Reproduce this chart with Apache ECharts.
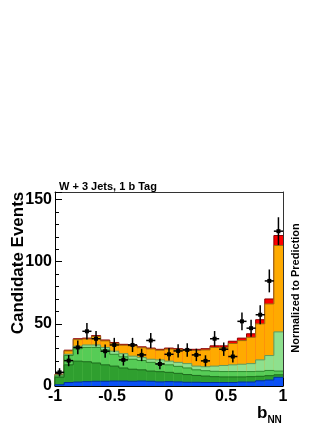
<!DOCTYPE html>
<html>
<head>
<meta charset="utf-8">
<script src="https://cdn.jsdelivr.net/npm/echarts@6/dist/echarts.min.js"></script>
<style>
  html, body { margin: 0; padding: 0; background: #fff; }
  #chart { width: 332px; height: 430px; }
</style>
</head>
<body>
<div id="chart"></div>
<script>
// bin edges of b_NN (25 bins from -1 to 1)
const binEdges = [-1, -0.92, -0.84, -0.76, -0.68, -0.6, -0.52, -0.44, -0.36, -0.28, -0.2, -0.12, -0.04,
  0.04, 0.12, 0.2, 0.28, 0.36, 0.44, 0.52, 0.6, 0.68, 0.76, 0.84, 0.92, 1];

// per-process predictions (stacked bottom -> top)
const blueProc   = [1, 2.8, 3.2, 3.5, 3.8, 3.8, 4, 4, 3.8, 4, 3.8, 3.3, 3.5, 3.3, 3, 3, 2.8, 2.8, 2.8, 2.8, 3.2, 3.2, 4.2, 4.8, 7];
const darkGreen  = [6, 14.2, 16.8, 16, 14.7, 13.2, 12, 10.5, 9.7, 9, 8.2, 8.2, 7.5, 6.9, 6.2, 5.5, 5.2, 4.7, 4.5, 4.5, 4.1, 4.3, 3.6, 3.5, 2];
const midGreen   = [1, 7.5, 10, 11.5, 12.5, 12, 9.5, 9, 8, 7.5, 7, 6.5, 6, 5.6, 5.3, 4.5, 4.3, 4.3, 4.3, 4.3, 4.3, 4.1, 4, 4.2, 3];
const lightGreen = [0.8, 1, 2, 2, 2, 2, 2.5, 2.5, 2.5, 2.5, 2.5, 3, 3, 3.2, 3.5, 3, 3.2, 4.2, 4.9, 5.4, 5.9, 6.4, 9.2, 12, 31.5];
const orangeProc = [0.5, 2.7, 5.3, 4.8, 6.8, 5.3, 6.3, 6.8, 8.3, 7.8, 8.3, 7.8, 9.7, 10.2, 10.6, 12.6, 13.5, 15, 14.5, 17.2, 19, 21.2, 29, 41.5, 69.5];
const redProc    = [0.2, 0.6, 0.7, 0.7, 0.7, 0.7, 0.7, 0.7, 0.7, 0.7, 0.7, 0.7, 0.8, 0.8, 0.9, 0.9, 1, 1.3, 1.3, 1.8, 2, 2.8, 3.3, 4, 8];

// observed data with errors
const dataCounts = [11, 20.4, 31, 44, 38, 28, 33, 21, 33, 25, 36.6, 17.7, 25.5, 28.2, 29, 25, 20.2, 38, 29.6, 23.7, 52, 46.5, 57.3, 84.5, 124.5];
const dataErrors = [3.3, 4.5, 5.5, 6.6, 6.2, 5.3, 5.7, 4.6, 5.7, 5, 6, 4.2, 5, 5.3, 5.4, 5, 4.5, 6.2, 5.4, 4.9, 7.2, 6.8, 7.6, 9.2, 11.2];

const yTicks = [0, 50, 100, 150];

const layers = [
  { name: 'blue', values: blueProc, fill: '#0a50f5', line: '#0030a0' },
  { name: 'darkgreen', values: darkGreen, fill: '#2f9f2f', line: '#1d6b1d' },
  { name: 'midgreen', values: midGreen, fill: '#56cc56', line: '#2f8a2f' },
  { name: 'lightgreen', values: lightGreen, fill: '#8ee08e', line: '#5f9a5f' },
  { name: 'orange', values: orangeProc, fill: '#ffaa00', line: '#9a6a10' },
  { name: 'red', values: redProc, fill: '#ff0000', line: '#8a0000' }
];

// cumulative tops
let running = binEdges.slice(1).map(() => 0);
layers.forEach(l => {
  running = running.map((v, i) => v + l.values[i]);
  l.tops = running.slice();
});

const FONT = 'Liberation Sans';

function histSeries(layer, z) {
  return {
    type: 'custom',
    z: z,
    silent: true,
    data: layer.tops.map((t, i) => [i, t, i > 0 ? layer.tops[i - 1] : 0]),
    renderItem: function (params, api) {
      const i = api.value(0);
      const top = api.value(1);
      const prev = api.value(2);
      const a = api.coord([binEdges[i], 0]);
      const b = api.coord([binEdges[i + 1], top]);
      const pPrev = api.coord([binEdges[i], prev]);
      return {
        type: 'group',
        children: [
          { type: 'rect', shape: { x: a[0], y: b[1], width: b[0] - a[0], height: a[1] - b[1] },
            style: { fill: layer.fill } },
          { type: 'polyline', shape: { points: [[a[0], pPrev[1]], [a[0], b[1]], [b[0], b[1]]] },
            style: { stroke: layer.line, lineWidth: 1, fill: null } }
        ]
      };
    }
  };
}

const series = [];
// draw from the top process down so lower outlines stay visible
layers.slice().reverse().forEach((l, k) => series.push(histSeries(l, 2 + k)));

series.push({
  type: 'custom',
  z: 20,
  silent: true,
  data: dataCounts.map((v, i) => [i, v, dataErrors[i]]),
  renderItem: function (params, api) {
    const i = api.value(0);
    const v = api.value(1);
    const e = api.value(2);
    const xc = (binEdges[i] + binEdges[i + 1]) / 2;
    const c = api.coord([xc, v]);
    const lo = api.coord([xc, v - e]);
    const hi = api.coord([xc, v + e]);
    const l = api.coord([binEdges[i], v]);
    const r = api.coord([binEdges[i + 1], v]);
    const st = { stroke: '#000', lineWidth: 1.5 };
    return {
      type: 'group',
      children: [
        { type: 'line', shape: { x1: c[0], y1: lo[1], x2: c[0], y2: hi[1] }, style: st },
        { type: 'line', shape: { x1: l[0], y1: c[1], x2: r[0], y2: c[1] }, style: st },
        { type: 'rect', shape: { x: c[0] - 2, y: c[1] - 2, width: 4, height: 4 }, style: { fill: '#000' } }
      ]
    };
  }
});

const chart = echarts.init(document.getElementById('chart'), null, { renderer: 'canvas' });

const option = {
  backgroundColor: '#fff',
  animation: false,
  title: {
    text: 'W + 3 Jets, 1 b Tag',
    left: 54,
    top: 176,
    textStyle: { fontFamily: FONT, fontSize: 11, fontWeight: 'bold', color: '#000' }
  },
  grid: { left: 55, right: 49, top: 192, bottom: 44 },
  xAxis: [{
    type: 'value',
    min: -1,
    max: 1,
    interval: 0.5,
    axisLine: { show: true, onZero: false, lineStyle: { color: '#000', width: 1 } },
    axisTick: { show: true, inside: true, length: 8, lineStyle: { color: '#000' } },
    minorTick: { show: true, splitNumber: 5, length: 4, lineStyle: { color: '#000' } },
    splitLine: { show: false },
    axisLabel: { fontFamily: FONT, fontSize: 16, fontWeight: 'bold', color: '#000', margin: 3 }
  }, {
    type: 'value', position: 'top', min: -1, max: 1,
    axisLine: { show: true, onZero: false, lineStyle: { color: '#333' } },
    axisTick: { show: false }, axisLabel: { show: false }, splitLine: { show: false }
  }],
  yAxis: [{
    type: 'value',
    min: 0,
    max: 156,
    interval: 50,
    axisLine: { show: true, onZero: false, lineStyle: { color: '#000', width: 1 } },
    axisTick: { show: true, inside: true, length: 7, lineStyle: { color: '#000' } },
    minorTick: { show: true, splitNumber: 5, length: 4, lineStyle: { color: '#000' } },
    splitLine: { show: false },
    axisLabel: {
      fontFamily: FONT, fontSize: 16, fontWeight: 'bold', color: '#000', margin: 3,
      showMaxLabel: false,
      formatter: v => (yTicks.indexOf(v) >= 0 ? String(v) : '')
    }
  }, {
    type: 'value', position: 'right', min: 0, max: 156,
    axisLine: { show: true, onZero: false, lineStyle: { color: '#333' } },
    axisTick: { show: false }, axisLabel: { show: false }, splitLine: { show: false }
  }],
  graphic: [
    {
      type: 'text', x: 18, y: 263, rotation: Math.PI / 2,
      style: { text: 'Candidate Events', fontFamily: FONT, fontSize: 17, fontWeight: 'bold',
        fill: '#000', align: 'center', verticalAlign: 'middle' }
    },
    {
      type: 'text', x: 296, y: 288, rotation: Math.PI / 2,
      style: { text: 'Normalized to Prediction', fontFamily: FONT, fontSize: 11, fontWeight: 'bold',
        fill: '#000', align: 'center', verticalAlign: 'middle' }
    },
    {
      type: 'text', x: 257, y: 404,
      style: {
        text: '{b|b}{s|NN}', fontFamily: FONT, fill: '#000',
        rich: {
          b: { fontFamily: FONT, fontSize: 17, fontWeight: 'bold', fill: '#000', verticalAlign: 'bottom', height: 18 },
          s: { fontFamily: FONT, fontSize: 10, fontWeight: 'bold', fill: '#000', verticalAlign: 'bottom', height: 12, padding: [0, 0, -4, 0] }
        }
      }
    }
  ],
  series: series
};

chart.setOption(option);
</script>
</body>
</html>
